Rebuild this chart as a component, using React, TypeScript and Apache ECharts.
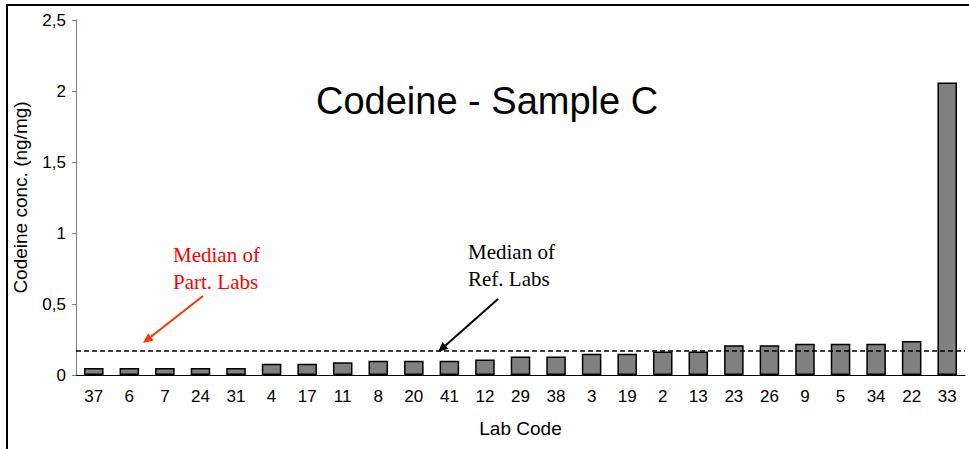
import React, { useEffect, useRef } from "react";
import * as echarts from "echarts";

const labCodes = ["37","6","7","24","31","4","17","11","8","20","41","12","29","38","3","19","2","13","23","26","9","5","34","22","33"];
const codeineValues = [0.05,0.05,0.05,0.05,0.05,0.08,0.08,0.09,0.10,0.10,0.10,0.11,0.13,0.13,0.15,0.15,0.165,0.165,0.21,0.21,0.22,0.22,0.22,0.24,2.06];
const medianValue = 0.17;
const yTicks = { min: 0, max: 2.5, interval: 0.5 };

function arrow(x1: number, y1: number, x2: number, y2: number, color: string) {
  const ang = Math.atan2(y2 - y1, x2 - x1);
  const len = 10, half = 4.5;
  const bx = x2 - len * Math.cos(ang), by = y2 - len * Math.sin(ang);
  const px = -Math.sin(ang) * half, py = Math.cos(ang) * half;
  return [
    { type: "line", shape: { x1, y1, x2: bx, y2: by }, style: { stroke: color, lineWidth: 2 }, z: 100 },
    { type: "polygon", shape: { points: [[x2, y2], [bx + px, by + py], [bx - px, by - py]] }, style: { fill: color }, z: 100 },
  ];
}

export default function App() {
  const ref = useRef<HTMLDivElement>(null);
  useEffect(() => {
    if (!ref.current) return;
    const chart = echarts.init(ref.current, null, { renderer: "svg" });
    chart.setOption({
      animation: false,
      backgroundColor: "#ffffff",
      textStyle: { fontFamily: "Liberation Sans, Arial, sans-serif" },
      title: {
        text: "Codeine - Sample C",
        left: 311,
        top: 77,
        textStyle: { fontFamily: "Liberation Sans, Arial, sans-serif", fontSize: 38, fontWeight: "normal", color: "#000" },
      },
      grid: { left: 76, right: 4, top: 20, bottom: 74 },
      xAxis: {
        type: "category",
        data: labCodes,
        name: "Lab Code",
        nameLocation: "middle",
        nameGap: 44,
        nameTextStyle: { fontSize: 19, color: "#000" },
        axisLine: { lineStyle: { color: "#000", width: 1 } },
        axisTick: { length: 5, lineStyle: { color: "#555" } },
        axisLabel: { fontSize: 17, color: "#000", margin: 13, interval: 0 },
      },
      yAxis: {
        type: "value",
        min: yTicks.min,
        max: yTicks.max,
        interval: yTicks.interval,
        name: "Codeine conc. (ng/mg)",
        nameLocation: "middle",
        nameGap: 46,
        nameTextStyle: { fontSize: 19, color: "#000" },
        axisLine: { show: true, lineStyle: { color: "#808080", width: 1 } },
        axisTick: { show: true, length: 4, lineStyle: { color: "#808080" } },
        axisLabel: { fontSize: 17, color: "#000", margin: 10, formatter: (v: number) => String(v).replace(".", ",") },
        splitLine: { show: false },
      },
      series: [
        {
          type: "bar",
          data: codeineValues,
          barCategoryGap: "45%",
          itemStyle: { color: "#808080", borderColor: "#000", borderWidth: 1.5 },
          markLine: {
            silent: true,
            symbol: ["none", "none"],
            label: { show: false },
            lineStyle: { color: "#000", type: [5, 3], width: 1.5 },
            data: [{ yAxis: medianValue }],
          },
        },
      ],
      graphic: [
        { type: "rect", shape: { x: 7, y: 5, width: 1100, height: 600 }, style: { fill: "none", stroke: "#000", lineWidth: 2 }, z: 100 },
        {
          type: "text", x: 173, y: 241, z: 100,
          style: { text: "Median of\nPart. Labs", fill: "#ff0000", font: "21px 'Liberation Serif', 'Times New Roman', serif", lineHeight: 27, textAlign: "left", textVerticalAlign: "top" },
        },
        {
          type: "text", x: 468, y: 238, z: 100,
          style: { text: "Median of\nRef. Labs", fill: "#000", font: "21px 'Liberation Serif', 'Times New Roman', serif", lineHeight: 27, textAlign: "left", textVerticalAlign: "top" },
        },
        ...arrow(203, 296, 143, 343, "#ff3300"),
        ...arrow(498, 299, 438, 352, "#000"),
      ],
    });
    return () => chart.dispose();
  }, []);
  return <div ref={ref} style={{ position: "fixed", left: 0, top: 0, width: 969, height: 449 }} />;
}
